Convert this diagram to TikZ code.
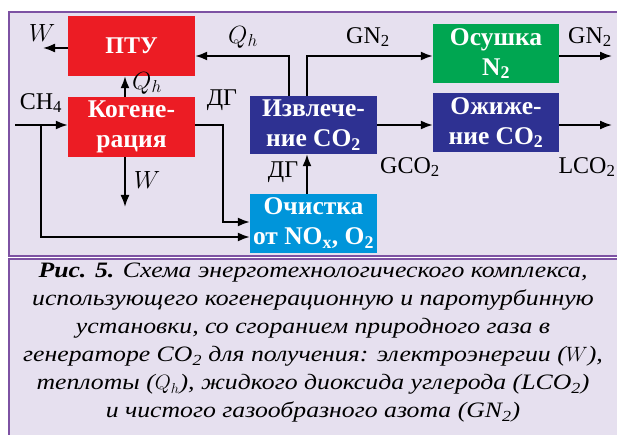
\documentclass[tikz,border=0pt]{standalone}
\usepackage{fontspec}
\setmainfont{Liberation Serif}
\newfontfamily\capfont{Liberation Serif}[FakeStretch=1.17]
\usepackage{xcolor}
\usetikzlibrary{arrows.meta}

\definecolor{frameviolet}{HTML}{7D52A3}
\definecolor{panelbg}{HTML}{E6E0EF}
\definecolor{blockred}{HTML}{EC1C24}
\definecolor{blockblue}{HTML}{2E3192}
\definecolor{blockgreen}{HTML}{00A651}
\definecolor{blockcyan}{HTML}{0095DA}

\begin{document}
\begin{tikzpicture}[x=1pt,y=-1pt,
        block/.style={text=white,align=center,inner sep=0pt,minimum width=127pt,minimum height=59pt,
            font=\fontsize{25.5}{30}\selectfont\bfseries},
        flow/.style={line width=1.8pt,-{Latex[length=12pt,width=9pt]}},
        lbl/.style={inner sep=0pt,font=\fontsize{24}{26}\selectfont}]
        \useasboundingbox (0,0) rectangle (617,435);
        \fill[white] (0,0) rectangle (617,435);
        \filldraw[fill=panelbg,draw=frameviolet,line width=2pt] (9,12) rectangle (630,256);
        \filldraw[fill=panelbg,draw=frameviolet,line width=2pt] (9,259) rectangle (630,450);

        % blocks
        \node[block,fill=blockred,minimum height=60pt,font=\fontsize{24}{29}\selectfont\bfseries] (ptu) at (131.5,46) {ПТУ};
        \node[block,fill=blockred,minimum height=60pt] (cogen) at (131.5,127) {Когене-\\рация};
        \node[block,fill=blockblue,minimum height=58pt] (extr) at (313.5,125) {Извлече-\\ние CO\textsubscript{2}};
        \node[block,fill=blockcyan] (clean) at (313.5,223.5) {Очистка\\от NO\textsubscript{x}, O\textsubscript{2}};
        \node[block,fill=blockgreen,minimum width=126pt] (dry) at (496,53.5) {Осушка\\N\textsubscript{2}};
        \node[block,fill=blockblue,minimum width=126pt] (liq) at (496,122.5) {Ожиже-\\ние CO\textsubscript{2}};

        % free ends and bends
        \coordinate (wout) at (43,48);
        \coordinate (wdown) at (125,207);
        \coordinate (gasin) at (15,125);
        \coordinate (split) at (41,125);
        \coordinate (bypass) at (41,237);
        \coordinate (dgturn) at (223,222);
        \coordinate (qhup) at (289,56);
        \coordinate (gnup) at (307,56);
        \coordinate (gnout) at (612,56);
        \coordinate (lcoout) at (612,125);

        % connectors
        \draw[flow] (ptu.west |- wout)--(wout);
        \draw[flow] (cogen.north -| wdown)--(ptu.south -| wdown);
        \draw[flow] (cogen.south -| wdown)--(wdown);
        \draw[flow] (gasin)--(cogen.west |- gasin);
        \draw[flow] (split)--(bypass)--(clean.west |- bypass);
        \draw[flow] (cogen.east |- gasin)-|(dgturn)--(clean.west |- dgturn);
        \draw[flow] (clean.north -| gnup)--(extr.south -| gnup);
        \draw[flow] (extr.north -| qhup)--(qhup)--(ptu.east |- qhup);
        \draw[flow] (extr.north -| gnup)--(gnup)--(dry.west |- gnup);
        \draw[flow] (extr.east |- lcoout)--(liq.west |- lcoout);
        \draw[flow] (dry.east |- gnup)--(gnout);
        \draw[flow] (liq.east |- lcoout)--(lcoout);

        % labels
        \node[lbl] (wleft) at (42,33) {$W$};
        \node[lbl] (qhlow) at (147,83) {$Q_h$};
        \node[lbl] (wlow) at (147,180) {$W$};
        \node[lbl] (ch) at (41,103) {CH\textsubscript{4}};
        \node[lbl] (dgone) at (222,100) {ДГ};
        \node[lbl] (dgtwo) at (283,172) {ДГ};
        \node[lbl] (qhtop) at (243,37) {$Q_h$};
        \node[lbl] (gnmid) at (368,37) {GN\textsubscript{2}};
        \node[lbl] (gnright) at (590,37) {GN\textsubscript{2}};
        \node[lbl] (gco) at (410,167) {GCO\textsubscript{2}};
        \node[lbl] (lco) at (587,167) {LCO\textsubscript{2}};

        % caption
        \node[align=center,inner sep=0pt,font=\capfont\fontsize{22}{28}\selectfont\itshape] (caption) at (313,343)
            {\textbf{Рис. 5.} Схема энерготехнологического комплекса,\\
             использующего когенерационную и паротурбинную\\
             установки, со сгоранием природного газа в\\
             генераторе CO\textsubscript{2} для получения: электроэнергии ($W$),\\
             теплоты ($Q_h$), жидкого диоксида углерода (LCO\textsubscript{2})\\
             и чистого газообразного азота (GN\textsubscript{2})};
\end{tikzpicture}
\end{document}
